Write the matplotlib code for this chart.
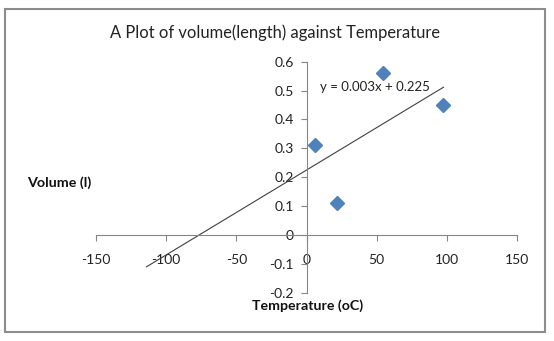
import numpy as np
import matplotlib
matplotlib.use('Agg')
import matplotlib.pyplot as plt
from matplotlib.patches import Rectangle

plt.rcParams['font.family'] = ['Lato', 'DejaVu Sans']

# data
temperature = [6.4, 22.0, 54.6, 97.6]
volume = [0.31, 0.11, 0.56, 0.45]
x_ticks = [-150, -100, -50, 0, 50, 100, 150]
y_ticks = [-0.2, -0.1, 0, 0.1, 0.2, 0.3, 0.4, 0.5, 0.6]
trend_start = -114

fig = plt.figure(figsize=(5.54, 3.41), dpi=100)
ax = fig.add_axes([0.1733, 0.1416, 0.7599, 0.6774])

# linear trendline (least squares), shown with rounded equation like Excel
slope, intercept = np.polyfit(temperature, volume, 1)
xt = np.array([trend_start, max(temperature)])
ax.plot(xt, slope * xt + intercept, color='#404040', lw=0.8, zorder=2)
ax.plot(temperature, volume, 'D', color='#4F81BD', ms=7, mec='#4F81BD', zorder=3,
        clip_on=False)
ax.text(9.3, 0.514, 'y = %.3fx + %.3f' % (slope, intercept), fontsize=9.5,
        va='center', ha='left', color='#222222')

ax.set_xlim(-150, 150)
ax.set_ylim(-0.2, 0.6)
ax.set_xticks(x_ticks)
ax.set_yticks(y_ticks)
ax.set_xticklabels([str(t) for t in x_ticks])
ax.set_yticklabels(['%g' % t for t in y_ticks])

for s in ['top', 'right']:
    ax.spines[s].set_visible(False)
ax.spines['left'].set_position(('data', 0))
ax.spines['bottom'].set_position(('data', 0))
for s in ['left', 'bottom']:
    ax.spines[s].set_color('#868686')
    ax.spines[s].set_linewidth(0.8)
ax.tick_params(axis='both', colors='#868686', labelcolor='#222222',
               labelsize=10, length=4, width=0.8, direction='out')
ax.tick_params(axis='x', pad=10)
ax.tick_params(axis='y', pad=5)

fig.text(0.497, 0.903, 'A Plot of volume(length) against Temperature',
         ha='center', va='center', fontsize=11.9, color='#222222')
fig.text(0.107, 0.463, 'Volume (l)', ha='center', va='center', fontsize=10.3,
         fontweight='bold', color='#111111')
fig.text(0.556, 0.103, 'Temperature (oC)', ha='center', va='center', fontsize=10.2,
         fontweight='bold', color='#111111')

fig.patches.append(Rectangle((5 / 554, 1 - 332 / 341), 540 / 554, 323 / 341,
                             transform=fig.transFigure, fill=False,
                             edgecolor='#8c8c8c', lw=1.5))

fig.savefig('out.png', dpi=100)
